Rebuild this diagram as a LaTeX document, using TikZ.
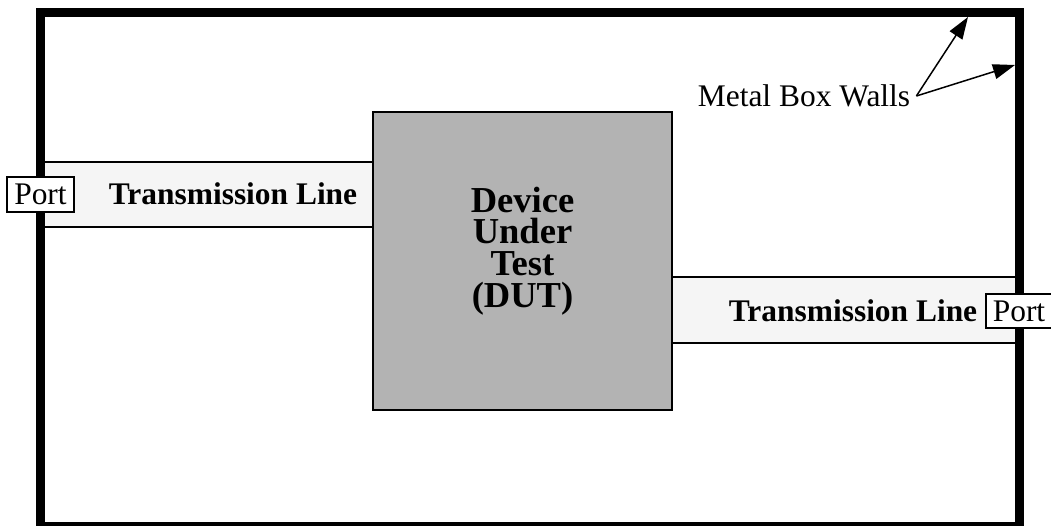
\documentclass[tikz,border=0pt]{standalone}
\usepackage{fontspec}
\setmainfont{Liberation Serif}
\usepackage{xcolor}
\usetikzlibrary{arrows.meta,positioning}
\definecolor{linegray}{RGB}{245,245,245}
\definecolor{dutgray}{RGB}{179,179,179}

\begin{document}
\begin{tikzpicture}[x=0.02cm,y=-0.02cm,
  wall/.style={draw,line width=0.18cm},
  tline/.style={draw,fill=linegray,line width=0.04cm},
  dutbox/.style={draw,fill=dutgray,line width=0.04cm,minimum width=5.98cm,
                 minimum height=5.96cm,inner sep=0pt},
  portbox/.style={draw,fill=white,line width=0.04cm,inner sep=0.14cm,
                  font=\fontsize{17.9}{21}\selectfont},
  tlabel/.style={font=\fontsize{17.9}{21}\selectfont\bfseries},
  arr/.style={-{Triangle[length=0.44cm,width=0.3cm]},line width=0.03cm}
]
\useasboundingbox (0,0) rectangle (1051,526);
% transmission lines
\draw[tline] (40.5,161.7) rectangle (373,227.3);
\draw[tline] (672,277.3) rectangle (1019,343.3);
% device under test
\node[dutbox] (dut) at (522.5,261) {};
\node[align=center,font=\fontsize{20.8}{18}\selectfont\bfseries]
  (duttext) at (522.5,251) {Device\\Under\\Test\\(DUT)};
% metal box
\draw[wall] (40.5,12.5) rectangle (1019,526);
\node[portbox] (port1) at (40.5,194.5) {Port};
\node[portbox] (port2) at (1019,311) {Port};
\node[tlabel] (tl1) at (233,194) {Transmission Line};
\node[tlabel] (tl2) at (853,310.5) {Transmission Line};
% wall label
\node[font=\fontsize{17.9}{21}\selectfont] (walls) at (804,96) {Metal Box Walls};
\coordinate (topwall) at (968,17);
\coordinate (rightwall) at (1015,65);
\draw[arr] (walls.east) -- (topwall);
\draw[arr] (walls.east) -- (rightwall);
\end{tikzpicture}
\end{document}
